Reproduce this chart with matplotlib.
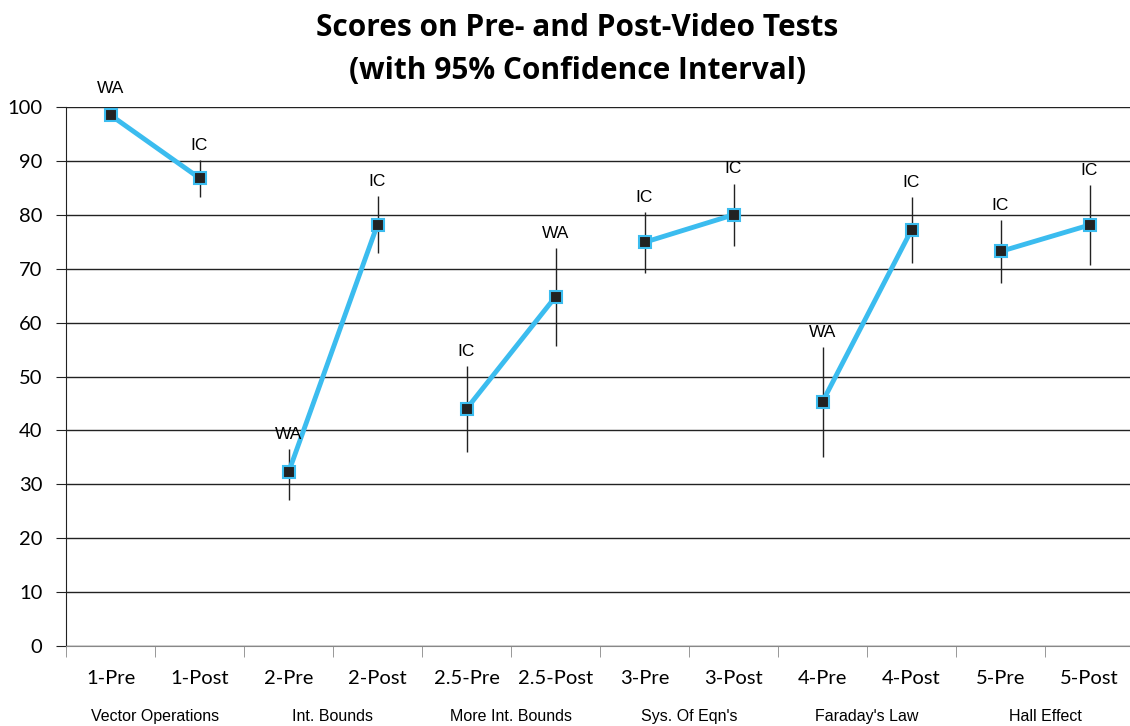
import matplotlib.pyplot as plt
import numpy as np

# 数据
tests = ['1-Pre', '1-Post', '2-Pre', '2-Post', '2.5-Pre', '2.5-Post',
         '3-Pre', '3-Post', '4-Pre', '4-Post', '5-Pre', '5-Post']
topics = ['Vector Operations', 'Int. Bounds', 'More Int. Bounds',
          "Sys. Of Eqn's", "Faraday's Law", 'Hall Effect']
scores = [98.5, 86.8, 32.2, 78.2, 44.0, 64.8, 74.9, 80.0, 45.3, 77.2, 73.2, 78.1]
ci_low = [98.5, 83.3, 27.0, 72.9, 36.0, 55.6, 69.2, 74.3, 35.0, 71.0, 67.3, 70.6]
ci_high = [98.5, 90.2, 36.5, 83.5, 52.0, 73.8, 80.5, 85.8, 55.5, 83.3, 79.0, 85.5]
methods = ['WA', 'IC', 'WA', 'IC', 'IC', 'WA', 'IC', 'IC', 'WA', 'IC', 'IC', 'IC']

blue = '#3bbcef'

fig = plt.figure(figsize=(11.3, 7.26), dpi=100)
ax = fig.add_axes([66 / 1130, 80 / 726, 1068 / 1130, 539 / 726])

x = np.arange(len(tests))
s = np.array(scores)
yerr = [s - np.array(ci_low), np.array(ci_high) - s]
ax.errorbar(x, s, yerr=yerr, fmt='none', ecolor='#222222', elinewidth=1, capsize=0, zorder=2)

# 每个主题两点连线
for i in range(0, len(tests), 2):
    ax.plot(x[i:i + 2], s[i:i + 2], color=blue, lw=3.5, zorder=3)
ax.plot(x, s, 's', ms=9, mfc='#222222', mec=blue, mew=1.5, zorder=4, ls='none')

for i in range(len(tests)):
    top = max(ci_high[i], scores[i])
    off = 10.5 if ci_high[i] > scores[i] else 19.5
    ax.annotate(methods[i], (x[i], top), xytext=(0, off), textcoords='offset points',
                ha='center', va='center', fontsize=12.5, family='Liberation Sans')

ax.set_xlim(-0.5, 11.5)
ax.set_ylim(0, 100)
ax.set_yticks(range(0, 101, 10))
ax.yaxis.grid(True, color='#222222', lw=1)
ax.set_axisbelow(True)
for sp in ['top', 'right']:
    ax.spines[sp].set_visible(False)
ax.spines['left'].set_color('#222222')
ax.spines['bottom'].set_color('#888888')

ax.set_xticks(x)
ax.set_xticklabels(tests, fontsize=14.5, family='Lato')
ax.set_xticks(np.arange(-0.5, 11.6, 1), minor=True)
ax.tick_params(axis='x', which='major', length=0, pad=17)
ax.tick_params(axis='x', which='minor', length=8, color='#888888')
ax.tick_params(axis='y', length=7, color='#222222', labelsize=14.5, pad=10)
for t in ax.get_yticklabels():
    t.set_family('Lato')

for k, name in enumerate(topics):
    ax.text(2 * k + 0.5, -13.1, name, ha='center', va='center', fontsize=11.5,
            family='Liberation Sans')

fig.text(0.511, 0.961, 'Scores on Pre- and Post-Video Tests', ha='center', va='center',
         fontsize=21.5, fontweight='bold', family='Open Sans')
fig.text(0.511, 0.902, '(with 95% Confidence Interval)', ha='center', va='center',
         fontsize=21.5, fontweight='bold', family='Open Sans')

fig.savefig('out.png', dpi=100)
